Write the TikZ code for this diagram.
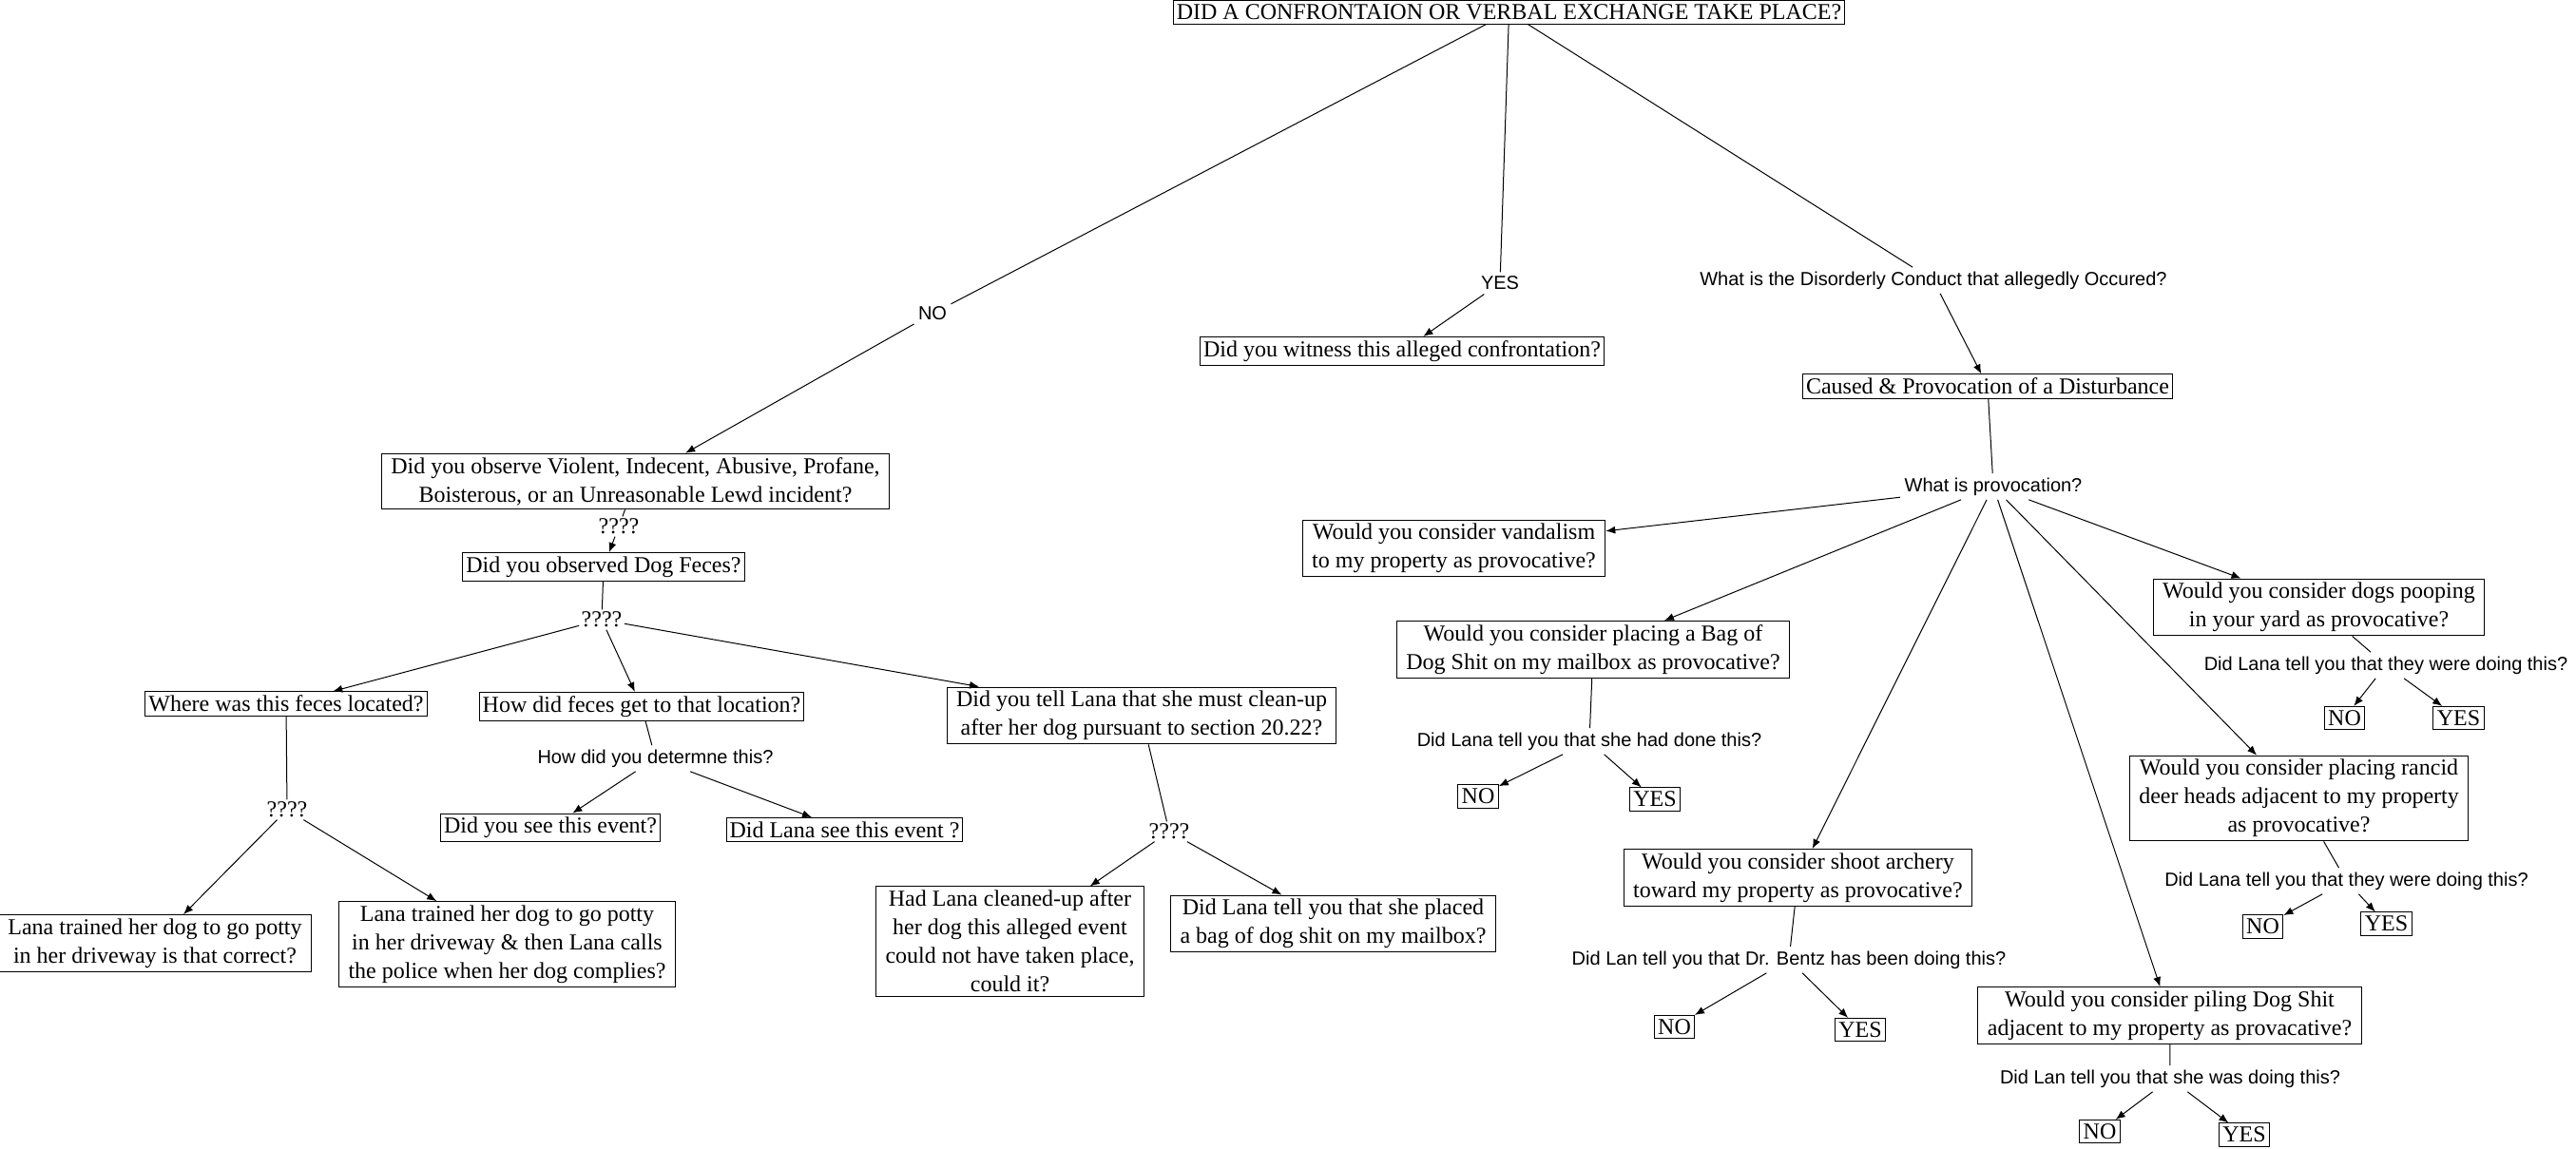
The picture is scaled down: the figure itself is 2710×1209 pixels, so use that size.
\documentclass[tikz,border=0pt]{standalone}
\usepackage{fontspec}
\setmainfont{Liberation Serif}
\newfontfamily\askfont{Liberation Sans}
\usetikzlibrary{arrows.meta}

\tikzstyle{block} = [rectangle, text centered, draw=black, inner xsep=1.75pt, inner ysep=2pt, font=\fontsize{12}{15}\selectfont]
\tikzstyle{block_2} = [block, align=center, inner xsep=5pt]
\tikzstyle{answer} = [block, inner xsep=2pt]
\tikzstyle{ask} = [inner sep=2pt, font=\askfont\fontsize{10}{12}\selectfont]
\tikzstyle{unsure} = [inner sep=1pt, font=\fontsize{12}{15}\selectfont]
\tikzstyle{arrow} = [->,>={Latex[length=5pt,width=4pt]}]

\begin{document}
\begin{tikzpicture}[x=0.5pt, y=-0.5pt, line width=0.5pt]
        \useasboundingbox (0,0) rectangle (2710,1209);
        % top question
        \node (title) [block] at (1587.5,13) {DID A CONFRONTAION OR VERBAL EXCHANGE TAKE PLACE?};
        \node (no) [ask] at (981,330) {NO};
        \node (yes) [ask] at (1578,298) {YES};
        \node (disorder) [ask] at (2034,295) {What is the Disorderly Conduct that allegedly Occured?};
        \node (witness) [block] at (1475,369.5) {Did you witness this alleged confrontation?};
        \draw (title) -- (no);
        \draw (title) -- (yes);
        \draw (title) -- (disorder);
        \draw [arrow] (yes) -- (witness);

        % NO branch
        \node (violent) [block_2] at (668.5,506.5) {Did you observe Violent, Indecent, Abusive, Profane,\\Boisterous, or an Unreasonable Lewd incident?};
        \node (unsure1) [unsure] at (651,554) {????};
        \node (feces) [block] at (635,596.5) {Did you observed Dog Feces?};
        \node (unsure2) [unsure] at (633,652) {????};
        \node (where) [block] at (301,740.5) {Where was this feces located?};
        \node (how) [block] at (675,743.5) {How did feces get to that location?};
        \node (cleanup) [block_2] at (1201,753) {Did you tell Lana that she must clean-up\\after her dog pursuant to section 20.22?};
        \draw [arrow] (no) -- (violent);
        \draw (violent) -- (unsure1);
        \draw [arrow] (unsure1) -- (feces);
        \draw (feces) -- (unsure2);
        \draw [arrow] (unsure2) -- (where);
        \draw [arrow] (unsure2) -- (how);
        \draw [arrow] (unsure2) -- (cleanup);

        \node (unsure3) [unsure] at (302,852) {????};
        \node (trained) [block_2] at (163,992.5) {Lana trained her dog to go potty\\in her driveway is that correct?};
        \node (calls) [block_2] at (533.5,993.5) {Lana trained her dog to go potty\\in her driveway \& then Lana calls\\the police when her dog complies?};
        \draw (where) -- (unsure3);
        \draw [arrow] (unsure3) -- (trained);
        \draw [arrow] (unsure3) -- (calls);

        \node (determine) [ask] at (689.5,798) {How did you determne this?};
        \node (seeyou) [block] at (579,871) {Did you see this event?};
        \node (seelana) [block] at (888.5,873) {Did Lana see this event ?};
        \draw (how) -- (determine);
        \draw [arrow] (determine) -- (seeyou);
        \draw [arrow] (determine) -- (seelana);

        \node (unsure4) [unsure] at (1230,875) {????};
        \node (hadlana) [block_2] at (1062.5,990.5) {Had Lana cleaned-up after\\her dog this alleged event\\could not have taken place,\\could it?};
        \node (placed) [block_2] at (1402.5,972) {Did Lana tell you that she placed\\a bag of dog shit on my mailbox?};
        \draw (cleanup) -- (unsure4);
        \draw [arrow] (unsure4) -- (hadlana);
        \draw [arrow] (unsure4) -- (placed);

        % disorderly conduct branch
        \node (caused) [block] at (2091,406.5) {Caused \& Provocation of a Disturbance};
        \node (provocation) [ask] at (2097,512) {What is provocation?};
        \draw [arrow] (disorder) -- (caused);
        \draw (caused) -- (provocation);

        \node (vandal) [block_2] at (1529.5,577) {Would you consider vandalism\\to my property as provocative?};
        \node (bag) [block_2] at (1676,683.5) {Would you consider placing a Bag of\\Dog Shit on my mailbox as provocative?};
        \node (archery) [block_2] at (1891.5,923.5) {Would you consider shoot archery\\toward my property as provocative?};
        \node (piling) [block_2] at (2282.5,1068.5) {Would you consider piling Dog Shit\\adjacent to my property as provacative?};
        \node (deer) [block_2] at (2418.5,840) {Would you consider placing rancid\\deer heads adjacent to my property\\as provocative?};
        \node (pooping) [block_2] at (2439.5,639) {Would you consider dogs pooping\\in your yard as provocative?};
        \foreach \target in {vandal,bag,archery,piling,deer,pooping}
                \draw [arrow] (provocation) -- (\target);

        % did Lana tell you
        \node (bagtold) [ask] at (1672,780) {Did Lana tell you that she had done this?};
        \node (bagno) [answer] at (1555,838) {NO};
        \node (bagyes) [answer] at (1741,841) {YES};
        \draw (bag) -- (bagtold);
        \draw [arrow] (bagtold) -- (bagno);
        \draw [arrow] (bagtold) -- (bagyes);

        \node (archerytold) [ask] at (1882,1010) {Did Lan tell you that Dr. Bentz has been doing this?};
        \node (archeryno) [answer] at (1761.5,1080.5) {NO};
        \node (archeryyes) [answer] at (1957,1083.5) {YES};
        \draw (archery) -- (archerytold);
        \draw [arrow] (archerytold) -- (archeryno);
        \draw [arrow] (archerytold) -- (archeryyes);

        \node (pilingtold) [ask] at (2283,1135) {Did Lan tell you that she was doing this?};
        \node (pilingno) [answer] at (2209,1190.5) {NO};
        \node (pilingyes) [answer] at (2361,1194) {YES};
        \draw (piling) -- (pilingtold);
        \draw [arrow] (pilingtold) -- (pilingno);
        \draw [arrow] (pilingtold) -- (pilingyes);

        \node (deertold) [ask] at (2468.5,927) {Did Lana tell you that they were doing this?};
        \node (deerno) [answer] at (2380.5,975) {NO};
        \node (deeryes) [answer] at (2510.5,972) {YES};
        \draw (deer) -- (deertold);
        \draw [arrow] (deertold) -- (deerno);
        \draw [arrow] (deertold) -- (deeryes);

        \node (poopingtold) [ask] at (2510,700) {Did Lana tell you that they were doing this?};
        \node (poopingno) [answer] at (2466.5,755.5) {NO};
        \node (poopingyes) [answer] at (2586.5,755.5) {YES};
        \draw (pooping) -- (poopingtold);
        \draw [arrow] (poopingtold) -- (poopingno);
        \draw [arrow] (poopingtold) -- (poopingyes);
\end{tikzpicture}
\end{document}
